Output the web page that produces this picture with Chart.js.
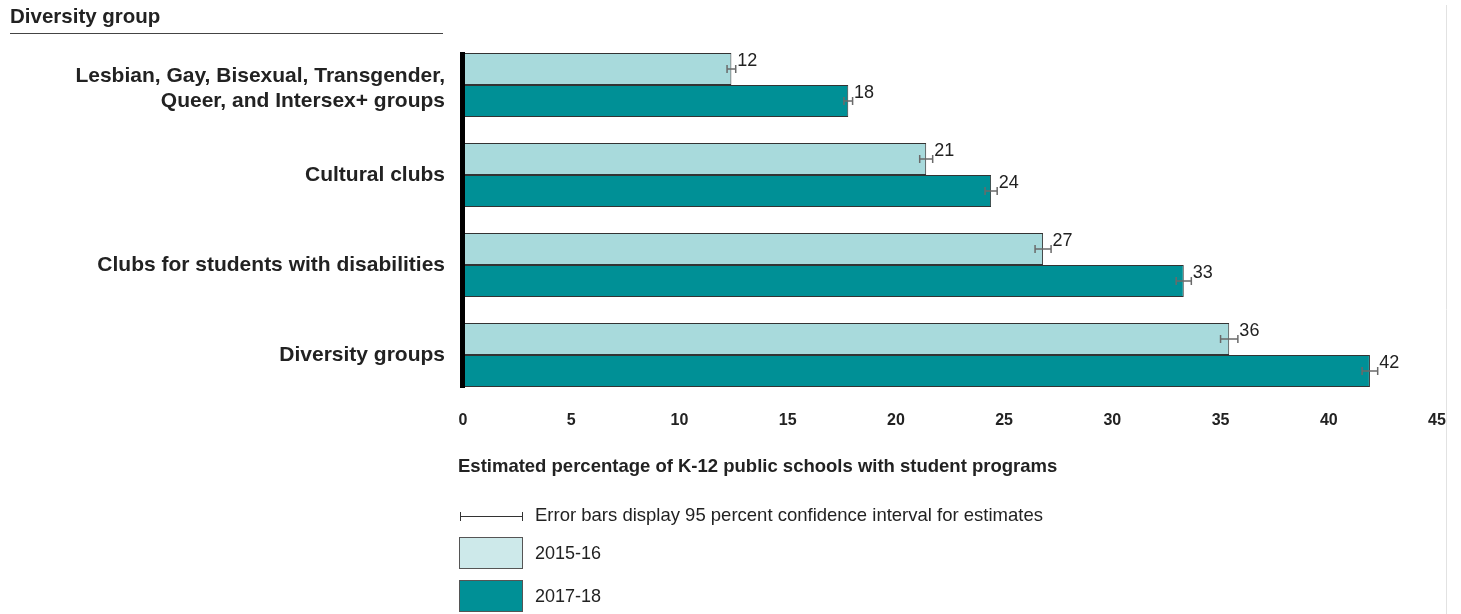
<!DOCTYPE html>
<html>
<head>
<meta charset="utf-8">
<script src="https://cdn.jsdelivr.net/npm/chart.js@4.4.1/dist/chart.umd.min.js"></script>
<style>
  html, body { margin: 0; padding: 0; background: #ffffff; }
  #wrap { width: 1461px; height: 614px; position: relative; }
</style>
</head>
<body>
<div id="wrap"><canvas id="chart" width="1461" height="614"></canvas></div>
<script>
  // Data
  const categories = [
    ["Lesbian, Gay, Bisexual, Transgender,", "Queer, and Intersex+ groups"],
    "Cultural clubs",
    "Clubs for students with disabilities",
    "Diversity groups",
  ];
  const seriesNames = ["2015-16", "2017-18"];
  const values2015 = [12.4, 21.4, 26.8, 35.4];
  const values2017 = [17.8, 24.4, 33.3, 41.9];
  const labels2015 = ["12", "21", "27", "36"];
  const labels2017 = ["18", "24", "33", "42"];
  const error2015 = [0.2, 0.3, 0.37, 0.4];
  const error2017 = [0.2, 0.28, 0.35, 0.36];
  const xTicks = [0, 5, 10, 15, 20, 25, 30, 35, 40, 45];

  const FONT = "'Liberation Sans', Arial, sans-serif";
  const colors = {
    light: "#a8dadc",
    lightLegend: "#cde9ea",
    dark: "#009096",
    border: "#333333",
    text: "#222222",
    err: "#6a6a6a",
  };

  const decorations = {
    id: "decorations",
    afterDatasetsDraw(chart) {
      const { ctx, scales } = chart;
      const x = scales.x;
      const yScale = scales.y;
      const errs = [error2015, error2017];
      const valueLabels = [labels2015, labels2017];
      ctx.save();

      // category labels, right aligned against the axis
      ctx.fillStyle = colors.text;
      ctx.font = "bold 21px " + FONT;
      ctx.textAlign = "right";
      ctx.textBaseline = "middle";
      categories.forEach((c, i) => {
        const cy = yScale.getPixelForValue(i);
        const lines = Array.isArray(c) ? c : [c];
        const lh = 25;
        const start = cy - ((lines.length - 1) * lh) / 2 + (lines.length > 1 ? 3.5 : 0);
        lines.forEach((ln, k) => ctx.fillText(ln, 445, start + k * lh));
      });

      // thick axis line spanning the bars
      const m0 = chart.getDatasetMeta(0).data;
      const m1 = chart.getDatasetMeta(1).data;
      const top = m0[0].y - m0[0].height / 2 - 1;
      const bottom = m1[m1.length - 1].y + m1[m1.length - 1].height / 2 + 1;
      ctx.fillStyle = "#000";
      ctx.fillRect(x.getPixelForValue(0) - 3, top, 5, bottom - top);

      // error bars and value labels
      chart.data.datasets.forEach((ds, di) => {
        const meta = chart.getDatasetMeta(di);
        meta.data.forEach((bar, i) => {
          const v = ds.data[i];
          const lo = x.getPixelForValue(v - errs[di][i]);
          const hi = x.getPixelForValue(v + errs[di][i]);
          const y = bar.y;
          ctx.strokeStyle = colors.err;
          ctx.lineWidth = 1.5;
          ctx.beginPath();
          ctx.moveTo(lo, y); ctx.lineTo(hi, y);
          ctx.moveTo(lo, y - 4); ctx.lineTo(lo, y + 4);
          ctx.moveTo(hi, y - 4); ctx.lineTo(hi, y + 4);
          ctx.stroke();

          ctx.fillStyle = colors.text;
          ctx.font = "18px " + FONT;
          ctx.textAlign = "left";
          ctx.textBaseline = "middle";
          ctx.fillText(valueLabels[di][i], hi + 1.5, y - 8);
        });
      });

      // header
      ctx.fillStyle = colors.text;
      ctx.font = "bold 20.5px " + FONT;
      ctx.textAlign = "left";
      ctx.textBaseline = "middle";
      ctx.fillText("Diversity group", 10, 17);
      ctx.strokeStyle = "#444";
      ctx.lineWidth = 1;
      ctx.beginPath();
      ctx.moveTo(10, 33.5); ctx.lineTo(443, 33.5);
      ctx.stroke();

      // axis title
      ctx.font = "bold 18.5px " + FONT;
      ctx.fillText("Estimated percentage of K-12 public schools with student programs", 458, 467);

      // legend
      ctx.strokeStyle = "#333";
      ctx.lineWidth = 1;
      ctx.beginPath();
      ctx.moveTo(460, 516.5); ctx.lineTo(523, 516.5);
      ctx.moveTo(460.5, 512); ctx.lineTo(460.5, 521);
      ctx.moveTo(522.5, 512); ctx.lineTo(522.5, 521);
      ctx.stroke();
      ctx.font = "18.5px " + FONT;
      ctx.fillText("Error bars display 95 percent confidence interval for estimates", 535, 516);

      const swatches = [colors.lightLegend, colors.dark];
      ctx.font = "18px " + FONT;
      [537, 580].forEach((sy, k) => {
        ctx.fillStyle = swatches[k];
        ctx.fillRect(459.5, sy + 0.5, 63, 31);
        ctx.strokeStyle = "#555";
        ctx.strokeRect(459.5, sy + 0.5, 63, 31);
        ctx.fillStyle = colors.text;
        ctx.fillText(seriesNames[k], 535, sy + 17);
      });

      // faint page border at right
      ctx.strokeStyle = "#e2e2e2";
      ctx.beginPath();
      ctx.moveTo(1446.5, 5); ctx.lineTo(1446.5, 614);
      ctx.stroke();

      ctx.restore();
    },
  };

  new Chart(document.getElementById("chart"), {
    type: "bar",
    data: {
      labels: categories,
      datasets: [
        {
          label: seriesNames[0],
          data: values2015,
          backgroundColor: colors.light,
          borderColor: colors.border,
          borderWidth: 1,
          borderSkipped: false,
          categoryPercentage: 0.711,
          barPercentage: 1,
        },
        {
          label: seriesNames[1],
          data: values2017,
          backgroundColor: colors.dark,
          borderColor: colors.border,
          borderWidth: 1,
          borderSkipped: false,
          categoryPercentage: 0.711,
          barPercentage: 1,
        },
      ],
    },
    plugins: [decorations],
    options: {
      indexAxis: "y",
      responsive: false,
      animation: false,
      layout: { padding: { left: 0, right: 24, top: 40, bottom: 0 } },
      scales: {
        x: {
          min: 0,
          max: 45,
          afterFit(s) { s.height = 214; },
          afterBuildTicks(s) { s.ticks = xTicks.map((v) => ({ value: v })); },
          ticks: {
            color: colors.text,
            font: { family: FONT, size: 16, weight: "bold" },
            padding: 11,
            maxRotation: 0,
          },
          grid: { display: false, drawTicks: false },
          border: { display: false },
        },
        y: {
          afterFit(s) { s.width = 463; },
          ticks: { display: false },
          grid: { display: false, drawTicks: false },
          border: { display: false },
        },
      },
      plugins: {
        legend: { display: false },
        tooltip: { enabled: false },
      },
    },
  });
</script>
</body>
</html>
